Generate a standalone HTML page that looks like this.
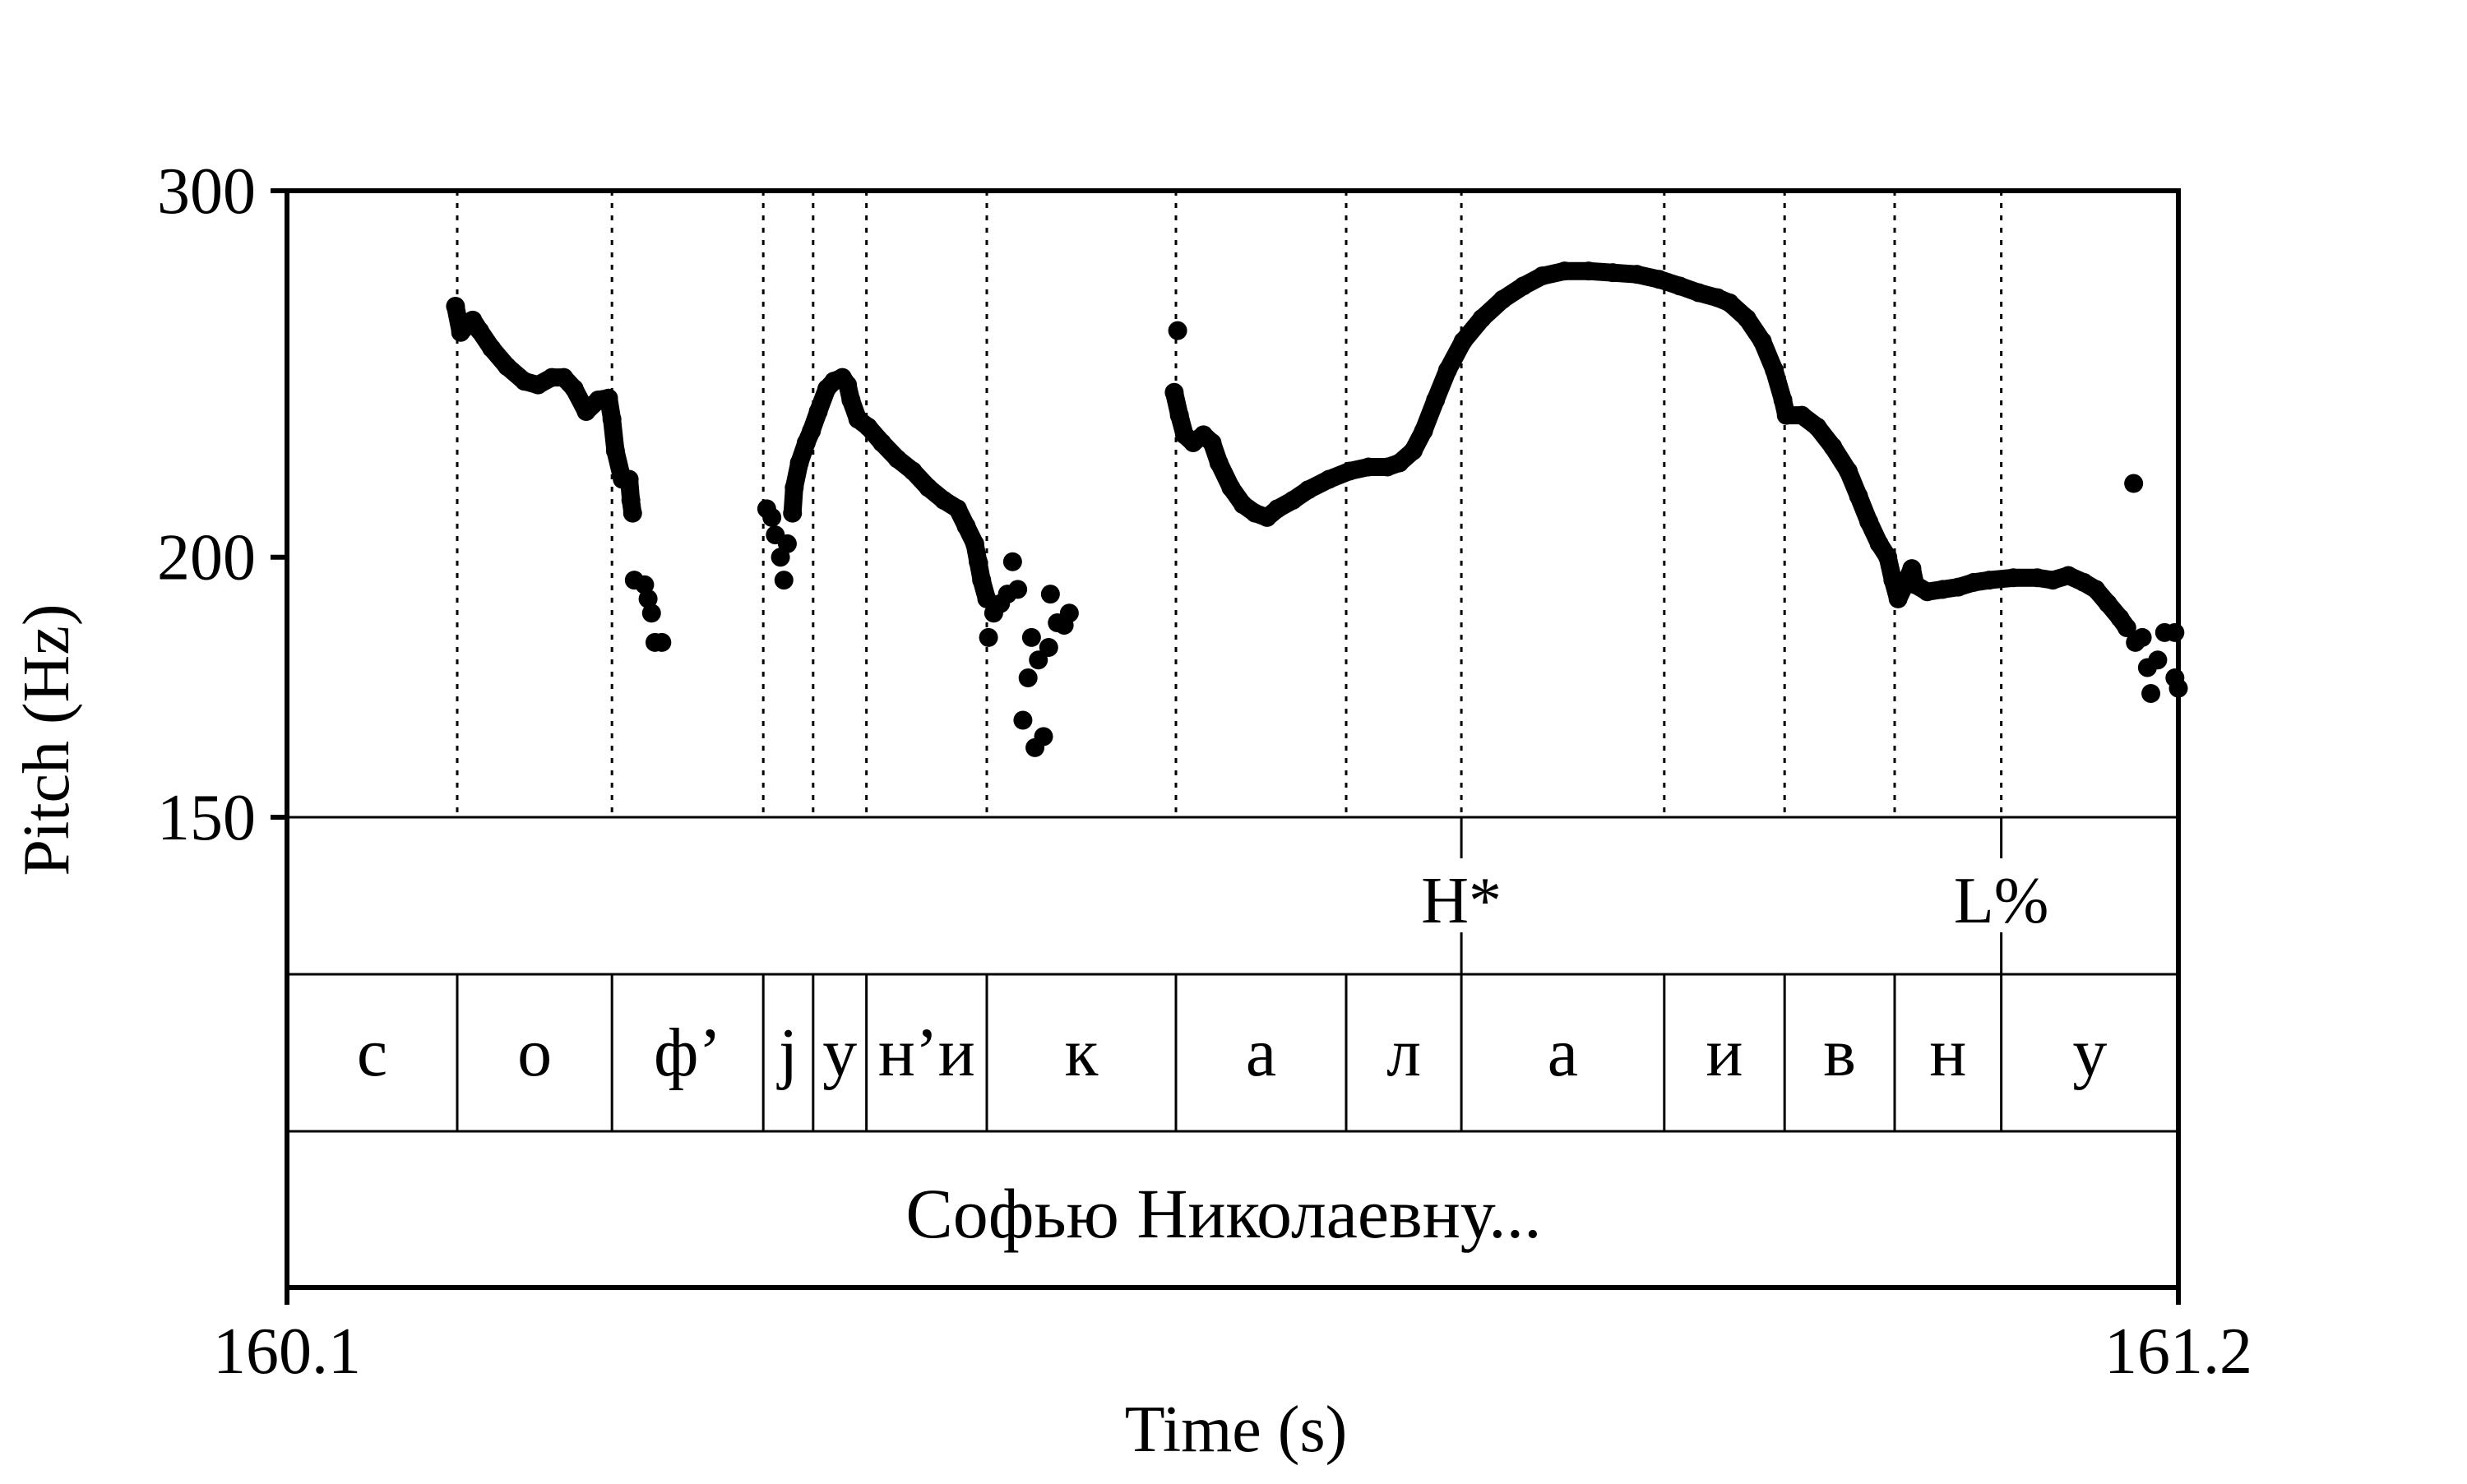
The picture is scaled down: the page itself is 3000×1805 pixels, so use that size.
<!DOCTYPE html>
<html><head><meta charset="utf-8"><style>
html,body{margin:0;padding:0;background:#fff}
svg text{font-family:"Liberation Serif","DejaVu Serif",serif;fill:#000}
</style></head><body>
<svg id="chart" width="3000" height="1800" viewBox="0 0 3000 1800" xmlns="http://www.w3.org/2000/svg">
<g id="g"></g>
</svg>
<script>
const line1T=[160.198,160.201,160.208,160.212,160.219,160.228,160.238,160.246,160.254,160.261,160.267,160.274,160.281,160.287,160.289,160.291,160.295,160.299,160.300,160.301];
const line1F=[264,256.5,260,257,252,247,243,242,244,244,241,235,238,238.5,233,225,218,218,213,210];
const line2T=[160.394,160.395,160.398,160.402,160.405,160.409,160.414,160.418,160.423,160.426,160.428,160.432,160.438,160.446,160.455,160.464,160.473,160.482,160.490,160.495,160.500,160.502,160.504,160.507];
const line2F=[210,216,222,227,230,235,241,243,244,242,238,233,231,227,223,220,216,213,211,207,203,199,195,191];
const line3T=[160.616,160.619,160.622,160.627,160.633,160.638,160.642,160.649,160.656,160.663,160.670,160.676,160.685,160.694,160.706,160.718,160.729,160.740,160.747,160.755,160.761,160.768,160.775,160.784,160.795,160.807,160.819,160.830,160.843,160.857,160.871,160.885,160.898,160.910,160.921,160.932,160.939,160.949,160.958,160.965,160.970,160.972,160.981,160.990,160.999,161.008,161.014,161.020,161.026,161.031,161.034,161.037,161.041,161.045,161.047,161.054,161.063,161.072,161.081,161.090,161.104,161.118,161.127,161.136,161.145,161.152,161.159,161.166,161.170];
const line3F=[240,234,229,227,229,227,222,216,212,210,209,211,213,215.5,218,220,221,221,222,225,230,238,246,254,260.5,266,270,273,274.5,274.5,274,273.5,272,270,268,266.5,265,260.5,254,246,238,234,234,231,226,220,214,208,203,200,195,191,194,197.5,194,192.5,193,193.5,194.5,195,195.5,195.5,195,196,194.5,193,190,187,185];
const scatterT=[160.302,160.308,160.310,160.312,160.314,160.318,160.379,160.382,160.384,160.387,160.389,160.391,160.508,160.511,160.515,160.519,160.522,160.525,160.528,160.531,160.533,160.535,160.537,160.540,160.543,160.544,160.548,160.552,160.555,160.618,161.175,161.179,161.182,161.184,161.188,161.192,161.198,161.198,161.200,161.174];
const scatterF=[195,194,191,188,182,182,211,209,205,200,195,203,183,188,190,192,199,193,167,175,183,162,178.5,164,181,192,186,185.5,188,257,182,183,177,172,178.5,184,184,175,173,217];
const boundaries=[160.199,160.289,160.377,160.406,160.437,160.507,160.617,160.716,160.783,160.901,160.971,161.035,161.097];
const segLabels=["с","о","ф’","j","у","н’и","к","а","л","а","и","в","н","у"];
const toneTimes=[160.783,161.097];
const toneLabels=["H*","L%"];
const yTicks=[300,200,150];
const xTicks=[160.1,161.2];
const T0=160.1,T1=161.2,FMIN=150,FMAX=300;
const PL=349,PR=2649,PTOP=232,PB=994,T2=1185,T3=1376,PBOT=1566;
const X=t=>PL+(t-T0)/(T1-T0)*(PR-PL);
const Y=f=>PB-Math.log(f/FMIN)/Math.log(FMAX/FMIN)*(PB-PTOP);
const NS="http://www.w3.org/2000/svg";
const g=document.getElementById('g');
function mk(tag,attrs){const e=document.createElementNS(NS,tag);for(const k in attrs)e.setAttribute(k,attrs[k]);g.appendChild(e);return e;}
function ln(x1,y1,x2,y2,w,dash){const e=mk('line',{x1:x1,y1:y1,x2:x2,y2:y2,stroke:'#000','stroke-width':w});if(dash)e.setAttribute('stroke-dasharray',dash);return e;}
function tx(s,x,y,size,anchor){const e=mk('text',{x:x,y:y,'font-size':size,'text-anchor':anchor||'middle'});e.textContent=s;return e;}
boundaries.forEach(b=>{const e=ln(X(b),PTOP,X(b),PB,3,'6,9');

});
boundaries.forEach(b=>{const e=ln(X(b),T2,X(b),T3,3);

});
toneTimes.forEach((t,i)=>{
const a=ln(X(t),PB,X(t),1044,3);


const b=ln(X(t),1134,X(t),T2,3);


const e=tx(toneLabels[i],X(t),1122,80);

});
const edges=[T0].concat(boundaries,[T1]);
segLabels.forEach((s,i)=>{const e=tx(s,(X(edges[i])+X(edges[i+1]))/2,1308,84);

});
const wordLabel=tx('Софью Николаевну...',1488,1505,86);


[[PB,3],[T2,3],[T3,3]].forEach(([y,s])=>{const e=ln(PL,y,PR,y,s);

});
const topAxis=ln(329,PTOP,PR+3,PTOP,6);


const botAxis=ln(PL-3,PBOT,PR+3,PBOT,6);


const leftAxis=ln(PL,PTOP-3,PL,1587,6);


const rightAxis=ln(PR,PTOP-3,PR,1587,6);


yTicks.forEach(v=>{const t=ln(329,Y(v),PL,Y(v),6);


const e=tx(String(v),311,Y(v)+27,80,'end');

});
xTicks.forEach(v=>{const e=tx(String(v),X(v),1670,80);

});
const xTitle=tx('Time (s)',1503,1765,80);


const yTitle=tx('Pitch (Hz)',0,0,80);
yTitle.setAttribute('transform','translate(83,900) rotate(-90)');


[[line1T,line1F],[line2T,line2F],[line3T,line3F]].forEach(([ts,fs])=>{
const p=mk('polyline',{points:ts.map((t,i)=>X(t).toFixed(1)+','+Y(fs[i]).toFixed(1)).join(' '),fill:'none',stroke:'#000','stroke-width':22,'stroke-linejoin':'round','stroke-linecap':'round'});


ts.forEach((t,i)=>{const c=mk('circle',{cx:X(t),cy:Y(fs[i]),r:11.5,fill:'#000'});

});
});
scatterT.forEach((t,i)=>{const c=mk('circle',{cx:X(t),cy:Y(scatterF[i]),r:11.5,fill:'#000'});

});
</script>
</body></html>
